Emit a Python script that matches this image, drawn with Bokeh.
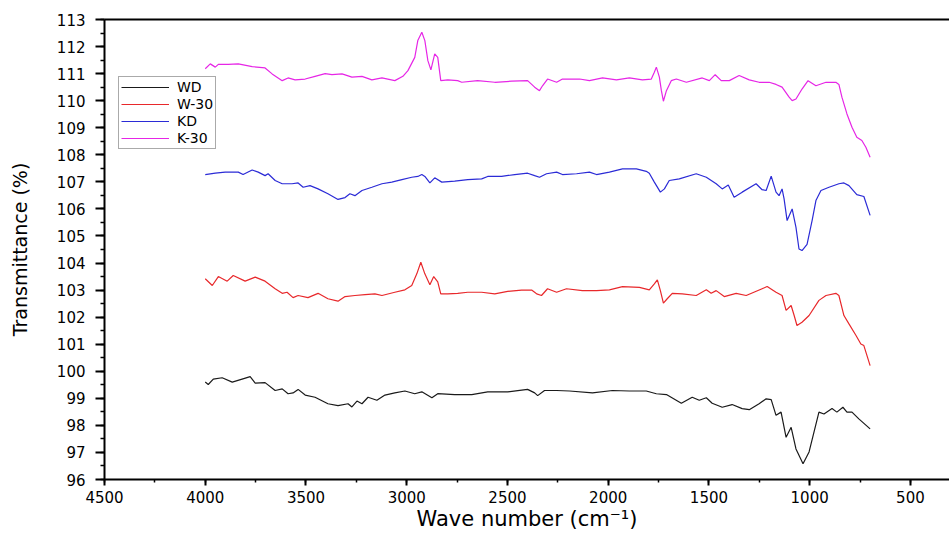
from bokeh.plotting import figure
from bokeh.models import Range1d, LinearAxis, SingleIntervalTicker, FixedTicker, Legend, LegendItem
from bokeh.embed import file_html
from bokeh.resources import INLINE

# ---- data ----
wd_wn = [4000, 3985, 3960, 3916, 3866, 3817, 3777, 3752, 3703, 3653, 3618, 3589, 3564, 3539, 3504,
         3455, 3391, 3341, 3291, 3272, 3247, 3222, 3192, 3148, 3108, 3059, 3009, 2960, 2925, 2875,
         2846, 2762, 2677, 2598, 2499, 2400, 2365, 2350, 2316, 2256, 2192, 2078, 1979, 1895, 1811,
         1761, 1711, 1637, 1583, 1548, 1513, 1484, 1434, 1385, 1335, 1300, 1251, 1216, 1191, 1167,
         1142, 1117, 1092, 1068, 1033, 1003, 954, 929, 889, 865, 835, 815, 790, 756, 700]
wd_t = [99.6, 99.51, 99.71, 99.76, 99.6, 99.71, 99.8, 99.56, 99.58, 99.29, 99.35, 99.17, 99.2, 99.33, 99.12,
        99.04, 98.8, 98.73, 98.8, 98.68, 98.9, 98.8, 99.04, 98.93, 99.12, 99.2, 99.27, 99.17, 99.24, 99.02,
        99.17, 99.14, 99.14, 99.24, 99.24, 99.33, 99.2, 99.1, 99.29, 99.29, 99.27, 99.2, 99.29, 99.27, 99.27,
        99.17, 99.14, 98.82, 99.04, 98.93, 99.02, 98.82, 98.67, 98.77, 98.62, 98.58, 98.8, 98.98, 98.95, 98.37,
        98.49, 97.56, 97.93, 97.13, 96.58, 97.02, 98.49, 98.42, 98.62, 98.49, 98.67, 98.49, 98.49, 98.24, 97.87]

w30_wn = [4000, 3965, 3935, 3891, 3861, 3802, 3752, 3703, 3653, 3618, 3594, 3564, 3539, 3490, 3440,
          3391, 3341, 3306, 3257, 3207, 3158, 3123, 3059, 3009, 2975, 2950, 2930, 2910, 2885, 2866,
          2846, 2831, 2796, 2747, 2697, 2628, 2563, 2499, 2430, 2380, 2365, 2355, 2331, 2301, 2256,
          2207, 2128, 2058, 1994, 1929, 1845, 1796, 1771, 1756, 1741, 1726, 1707, 1682, 1632, 1563,
          1513, 1489, 1464, 1424, 1365, 1315, 1236, 1211, 1167, 1137, 1117, 1092, 1077, 1063, 1038,
          1003, 954, 919, 870, 855, 830, 805, 770, 746, 731, 700]
w30_t = [103.42, 103.17, 103.5, 103.33, 103.54, 103.33, 103.48, 103.33, 103.05, 102.88, 102.92, 102.72, 102.8, 102.72, 102.88,
         102.68, 102.59, 102.76, 102.8, 102.83, 102.86, 102.8, 102.92, 103.01, 103.17, 103.6, 104.03, 103.6, 103.2, 103.5,
         103.3, 102.86, 102.86, 102.88, 102.92, 102.92, 102.86, 102.95, 103.0, 103.0, 102.92, 102.86, 102.8, 103.05, 102.92,
         103.05, 102.98, 102.98, 103.01, 103.13, 103.1, 103.01, 103.23, 103.38, 102.98, 102.52, 102.68, 102.88, 102.86, 102.8,
         103.01, 102.88, 102.98, 102.76, 102.88, 102.8, 103.05, 103.13, 102.92, 102.8, 102.25, 102.43, 102.06, 101.69, 101.81,
         102.06, 102.62, 102.8, 102.88, 102.8, 102.06, 101.75, 101.32, 101.01, 100.95, 100.21]

kd_wn = [4000, 3950, 3901, 3836, 3812, 3767, 3737, 3703, 3688, 3653, 3618, 3569, 3539, 3514, 3480,
         3440, 3391, 3341, 3306, 3282, 3257, 3222, 3173, 3123, 3074, 3024, 2975, 2945, 2925, 2910,
         2885, 2861, 2826, 2762, 2697, 2628, 2598, 2529, 2464, 2400, 2365, 2341, 2306, 2256, 2227,
         2157, 2093, 2058, 1994, 1929, 1860, 1811, 1796, 1771, 1741, 1721, 1697, 1647, 1563, 1513,
         1464, 1434, 1404, 1375, 1335, 1266, 1236, 1216, 1191, 1167, 1152, 1137, 1127, 1112, 1087,
         1068, 1053, 1038, 1013, 988, 969, 944, 904, 855, 830, 805, 766, 731, 700]
kd_t = [107.27, 107.32, 107.36, 107.36, 107.27, 107.44, 107.36, 107.23, 107.3, 107.05, 106.93, 106.93, 106.96, 106.8, 106.86,
        106.74, 106.56, 106.35, 106.42, 106.56, 106.49, 106.68, 106.8, 106.93, 106.99, 107.08, 107.17, 107.2, 107.27, 107.2,
        106.96, 107.15, 106.99, 107.03, 107.08, 107.11, 107.2, 107.2, 107.27, 107.32, 107.23, 107.17, 107.3, 107.36, 107.27,
        107.3, 107.36, 107.27, 107.36, 107.48, 107.48, 107.39, 107.32, 106.99, 106.62, 106.74, 107.05, 107.11, 107.3, 107.17,
        106.93, 106.74, 106.88, 106.43, 106.62, 106.93, 106.71, 106.68, 107.21, 106.62, 106.49, 106.74, 106.37, 105.57, 106.0,
        105.32, 104.52, 104.46, 104.69, 105.57, 106.31, 106.68, 106.8, 106.93, 106.96, 106.86, 106.53, 106.46, 105.76]

k30_wn = [4000, 3975, 3950, 3935, 3886, 3836, 3767, 3703, 3668, 3618, 3589, 3554, 3504, 3455, 3405,
          3371, 3321, 3272, 3222, 3173, 3123, 3059, 3019, 2994, 2960, 2945, 2925, 2910, 2895, 2880,
          2861, 2846, 2831, 2796, 2747, 2727, 2648, 2563, 2479, 2400, 2365, 2341, 2326, 2301, 2256,
          2227, 2142, 2093, 2028, 1959, 1895, 1830, 1786, 1771, 1761, 1746, 1736, 1726, 1711, 1687,
          1662, 1612, 1533, 1498, 1469, 1439, 1399, 1350, 1300, 1251, 1201, 1167, 1137, 1102, 1087,
          1068, 1038, 1008, 969, 919, 870, 855, 840, 815, 790, 766, 741, 721, 700]
k30_t = [111.18, 111.36, 111.24, 111.34, 111.34, 111.36, 111.26, 111.21, 110.99, 110.74, 110.84, 110.77, 110.8, 110.9, 111.0,
         110.96, 110.99, 110.87, 110.9, 110.77, 110.84, 110.74, 110.9, 111.11, 111.6, 112.22, 112.53, 112.22, 111.48, 111.14,
         111.73, 111.6, 110.74, 110.77, 110.74, 110.68, 110.74, 110.68, 110.72, 110.74, 110.5, 110.37, 110.55, 110.8, 110.68,
         110.8, 110.8, 110.74, 110.84, 110.77, 110.84, 110.77, 110.8, 111.05, 111.24, 110.87, 110.37, 109.98, 110.37, 110.74,
         110.8, 110.68, 110.84, 110.74, 110.96, 110.74, 110.74, 110.93, 110.77, 110.68, 110.68, 110.6, 110.5, 110.13, 110.0,
         110.06, 110.43, 110.74, 110.55, 110.68, 110.68, 110.6, 110.13, 109.51, 109.02, 108.65, 108.53, 108.28, 107.91]

series_names = ["WD", "W-30", "KD", "K-30"]
series_colors = ["#1a1a1a", "#e8282b", "#2b2bd6", "#e626e6"]

FONT = "DejaVu Sans"

p = figure(width=949, height=534, output_backend="svg", toolbar_location=None,
           x_range=Range1d(4500, 306), y_range=Range1d(96, 113),
           min_border_left=104, min_border_right=0, min_border_top=19, min_border_bottom=55,
           x_axis_label="Wave number (cm\u207b\u00b9)", y_axis_label="Transmittance (%)")
p.outline_line_color = None
p.grid.visible = False
p.background_fill_color = "white"
p.border_fill_color = "white"

xa = p.xaxis[0]
xa.ticker = SingleIntervalTicker(interval=500, num_minor_ticks=2)
ya = p.yaxis[0]
ya.ticker = SingleIntervalTicker(interval=1, num_minor_ticks=2)

for ax in (xa, ya):
    ax.axis_line_width = 2
    ax.axis_line_color = "black"
    ax.major_tick_line_width = 2
    ax.minor_tick_line_width = 1.5
    ax.major_tick_in = 0
    ax.minor_tick_in = 0
    ax.major_label_text_font = FONT
    ax.major_label_text_font_size = "15px"
    ax.major_label_text_color = "black"
    ax.axis_label_text_font = FONT
    ax.axis_label_text_font_style = "normal"
    ax.axis_label_text_color = "black"

xa.major_tick_out = 6
xa.minor_tick_out = 3
xa.major_label_standoff = 5
xa.axis_label_standoff = 1
xa.axis_label_text_font_size = "21px"

ya.major_tick_out = 9
ya.minor_tick_out = 4
ya.major_label_standoff = 10
ya.axis_label_standoff = 23
ya.axis_label_text_font_size = "19px"

top = LinearAxis(ticker=FixedTicker(ticks=[]))
top.axis_line_width = 2
top.axis_line_color = "black"
top.major_tick_line_color = None
top.minor_tick_line_color = None
top.major_tick_out = 0
top.major_tick_in = 0
top.major_label_standoff = 0
p.add_layout(top, "above")

data = [(wd_wn, wd_t), (w30_wn, w30_t), (kd_wn, kd_t), (k30_wn, k30_t)]
items = []
for (xs, ys), name, col in zip(data, series_names, series_colors):
    r = p.line(xs, ys, line_color=col, line_width=1.2)
    items.append(LegendItem(label=name, renderers=[r]))

legend = Legend(items=items, location=(14, 330))
legend.border_line_color = "#555555"
legend.border_line_width = 1.5
legend.background_fill_color = "white"
legend.padding = 2
legend.spacing = 1
legend.margin = 0
legend.glyph_width = 48
legend.glyph_height = 16
legend.label_height = 16
legend.label_standoff = 8
legend.label_text_font = FONT
legend.label_text_font_size = "14px"
legend.label_text_color = "black"
p.add_layout(legend)

open("out.html", "w").write(file_html(p, INLINE))
